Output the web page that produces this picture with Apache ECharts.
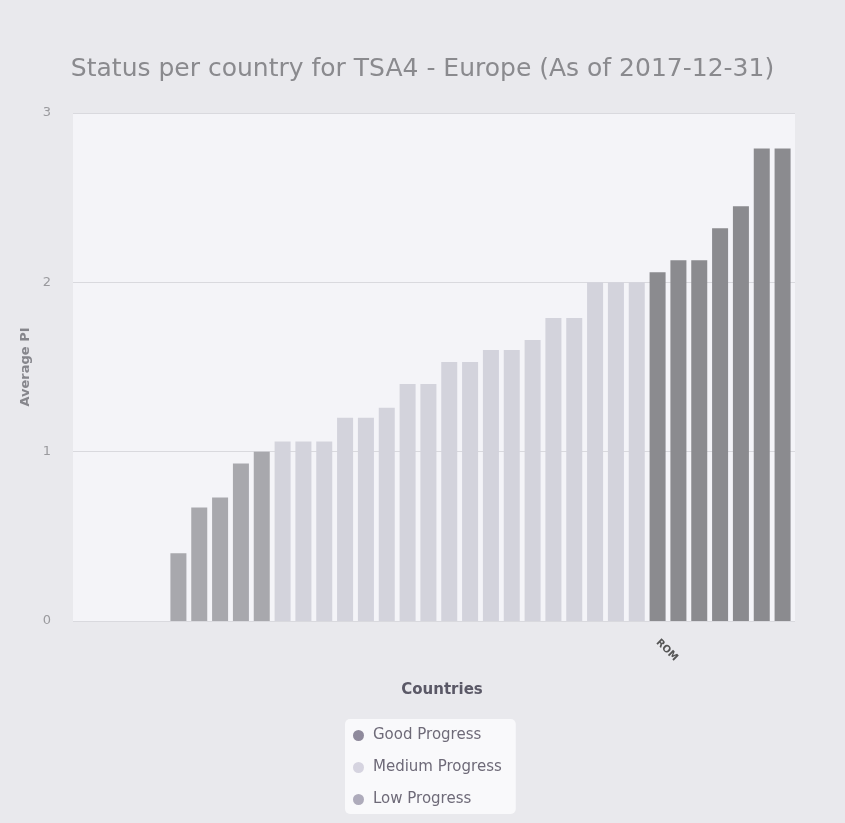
<!DOCTYPE html>
<html>
<head>
<meta charset="utf-8">
<script src="https://cdn.jsdelivr.net/npm/echarts@6/dist/echarts.min.js"></script>
<style>
html,body{margin:0;padding:0;background:#e9e9ed;}
#c{width:845px;height:823px;}
</style>
</head>
<body>
<div id="c"></div>
<script>
// Data
const titleText = 'Status per country for TSA4 - Europe (As of 2017-12-31)';
const categories = ['', '', '', '', '', '', '', '', '', '', '', '', '', '', '', '', '', '', '', '', '', '', '', 'ROM', '', '', '', '', '', ''];
const values = [0.40, 0.67, 0.73, 0.93, 1.00, 1.06, 1.06, 1.06, 1.20, 1.20, 1.26, 1.40, 1.40, 1.53, 1.53, 1.60, 1.60, 1.66, 1.79, 1.79, 2.00, 2.00, 2.00, 2.06, 2.13, 2.13, 2.32, 2.45, 2.79, 2.79];
const status = ['Low', 'Low', 'Low', 'Low', 'Low', 'Medium', 'Medium', 'Medium', 'Medium', 'Medium', 'Medium', 'Medium', 'Medium', 'Medium', 'Medium', 'Medium', 'Medium', 'Medium', 'Medium', 'Medium', 'Medium', 'Medium', 'Medium', 'Good', 'Good', 'Good', 'Good', 'Good', 'Good', 'Good'];
const seriesNames = ['Good Progress', 'Medium Progress', 'Low Progress'];
const seriesKeys = ['Good', 'Medium', 'Low'];
const yTicks = [0, 1, 2, 3];

const colors = { 'Good': '#8b8b8f', 'Medium': '#d3d3dc', 'Low': '#a8a8ad' };
const legendColors = { 'Good': '#8f8a9c', 'Medium': '#d6d4e0', 'Low': '#aeabbb' };

const series = seriesKeys.map((k, i) => ({
  name: seriesNames[i],
  type: 'bar',
  xAxisIndex: 1,
  yAxisIndex: 1,
  barWidth: 16,
  barGap: '-100%',
  itemStyle: { color: colors[k] },
  data: values.map((v, j) => status[j] === k ? v : null)
}));

const chart = echarts.init(document.getElementById('c'), null, { renderer: 'canvas' });
chart.setOption({
  backgroundColor: '#e9e9ed',
  animation: false,
  color: seriesKeys.map(k => legendColors[k]),
  title: {
    text: titleText,
    left: 'center',
    top: 52,
    textStyle: { fontFamily: 'DejaVu Sans', fontSize: 25, fontWeight: 'normal', color: '#8a8a8e' }
  },
  legend: {
    orient: 'vertical',
    left: 345,
    top: 719,
    padding: [9, 14, 7, 8],
    itemGap: 17,
    itemWidth: 11,
    itemHeight: 11,
    icon: 'circle',
    backgroundColor: '#f9f9fb',
    borderRadius: 5,
    data: seriesNames.map((n, i) => ({ name: n, itemStyle: { color: legendColors[seriesKeys[i]] } })),
    textStyle: { fontFamily: 'DejaVu Sans', fontSize: 15, color: '#6e6a78', padding: [0, 0, 0, 4] }
  },
  grid: [
    { left: 73, right: 50, top: 113, bottom: 202, show: true, backgroundColor: '#f4f4f8', borderWidth: 0 },
    { left: 168, right: 52, top: 113, bottom: 202 }
  ],
  xAxis: [
    {
      type: 'value', gridIndex: 0, min: 0, max: 1,
      name: 'Countries', nameLocation: 'middle', nameGap: 62,
      nameTextStyle: { fontFamily: 'DejaVu Sans', fontSize: 15, fontWeight: 'bold', color: '#5a5866', padding: [0, 0, 0, 16] },
      axisLine: { show: false }, axisTick: { show: false }, axisLabel: { show: false }, splitLine: { show: false }
    },
    {
      type: 'category', gridIndex: 1, data: categories,
      axisLine: { show: false }, axisTick: { show: false },
      axisLabel: { interval: 0, rotate: -45, margin: 20, fontFamily: 'DejaVu Sans', fontSize: 10, fontWeight: 'bold', color: '#555' }
    }
  ],
  yAxis: [
    {
      type: 'value', gridIndex: 0, min: yTicks[0], max: yTicks[yTicks.length - 1], interval: 1,
      name: 'Average PI', nameLocation: 'middle', nameGap: 40,
      nameTextStyle: { fontFamily: 'DejaVu Sans', fontSize: 13, fontWeight: 'bold', color: '#86868c' },
      axisLine: { show: false }, axisTick: { show: false },
      axisLabel: { margin: 22, fontFamily: 'DejaVu Sans', fontSize: 13, color: '#9a9a9e' },
      splitLine: { show: true, lineStyle: { color: '#d9d9de', width: 1 } }
    },
    {
      type: 'value', gridIndex: 1, min: yTicks[0], max: yTicks[yTicks.length - 1], interval: 1,
      show: false, splitLine: { show: false }
    }
  ],
  series: series
});
</script>
</body>
</html>
